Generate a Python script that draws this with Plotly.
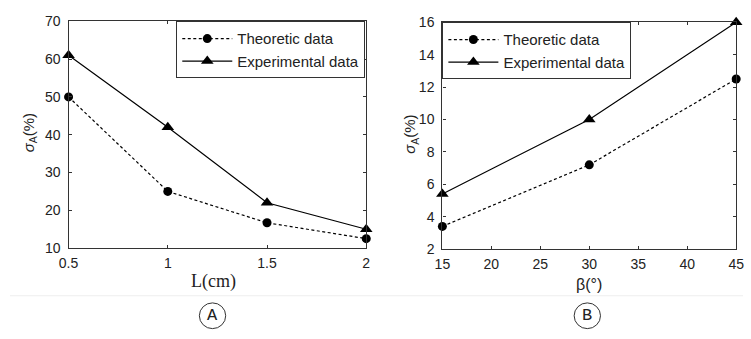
import plotly.graph_objects as go

# Panel A data
L_cm = [0.5, 1.0, 1.5, 2.0]
theo_A = [50.0, 25.0, 16.7, 12.5]
exp_A = [61.0, 42.0, 22.0, 15.0]

# Panel B data
beta_deg = [15, 30, 45]
theo_B = [3.4, 7.2, 12.5]
exp_B = [5.4, 10.0, 16.0]

xticks_A = [0.5, 1, 1.5, 2]
xtick_text_A = ["0.5", "1", "1.5", "2"]
yticks_A = [10, 20, 30, 40, 50, 60, 70]
xticks_B = [15, 20, 25, 30, 35, 40, 45]
yticks_B = [2, 4, 6, 8, 10, 12, 14, 16]

W, H = 751, 339
def px(x): return x / W
def py(y): return 1 - y / H

TXT = "#222222"
tickfont = dict(family="Liberation Sans, Arial", size=14, color=TXT)
legfont = dict(family="Liberation Sans, Arial", size=15, color=TXT)

dash_style = "3px,2.5px"
def series(x, y, name, dashed, xa, ya, leg):
    return go.Scatter(
        x=x, y=y, name=name, mode="lines+markers", cliponaxis=False,
        line=dict(color="black", width=1.2, dash=dash_style if dashed else "solid"),
        marker=dict(symbol="circle" if dashed else "triangle-up",
                    size=9 if dashed else 11, color="black"),
        xaxis=xa, yaxis=ya, legend=leg)

fig = go.Figure()
fig.add_trace(series(L_cm, theo_A, "Theoretic data", True, "x", "y", "legend"))
fig.add_trace(series(L_cm, exp_A, "Experimental data", False, "x", "y", "legend"))
fig.add_trace(series(beta_deg, theo_B, "Theoretic data", True, "x2", "y2", "legend2"))
fig.add_trace(series(beta_deg, exp_B, "Experimental data", False, "x2", "y2", "legend2"))

axis_common = dict(showline=True, linecolor="#333333", linewidth=1.3, mirror="ticks",
                   ticks="inside", ticklen=3, tickcolor="#333333", showgrid=False,
                   zeroline=False, tickfont=tickfont)

fig.update_layout(
    width=W, height=H,
    margin=dict(l=0, r=0, t=0, b=0),
    paper_bgcolor="white", plot_bgcolor="white",
    xaxis=dict(domain=[px(60), px(365)], range=[0.5, 2], tickvals=xticks_A,
               ticktext=xtick_text_A, anchor="y", ticklabelstandoff=2, **axis_common),
    yaxis=dict(domain=[py(252), py(14)], range=[10, 70], tickvals=yticks_A,
               anchor="x", ticklabelstandoff=4, **axis_common),
    xaxis2=dict(domain=[px(443), px(744)], range=[15, 45], tickvals=xticks_B,
                anchor="y2", ticklabelstandoff=2, **axis_common),
    yaxis2=dict(domain=[py(253), py(15)], range=[2, 16], tickvals=yticks_B,
                anchor="x2", ticklabelstandoff=4, **axis_common),
    legend=dict(x=px(364), xanchor="right", y=py(14), yanchor="top",
                bgcolor="white", bordercolor="#333333", borderwidth=1, font=legfont,
                tracegroupgap=0, itemwidth=50),
    legend2=dict(x=px(443), xanchor="left", y=py(15), yanchor="top",
                 bgcolor="white", bordercolor="#333333", borderwidth=1, font=legfont,
                 tracegroupgap=0, itemwidth=50),
    showlegend=True,
)

def ann(text, x, y, font, angle=0):
    return dict(text=text, x=px(x), y=py(y), xref="paper", yref="paper",
                xanchor="center", yanchor="middle", showarrow=False,
                textangle=angle, font=font)

annotations = [
    ann("L(cm)", 209, 287, dict(family="Liberation Serif, Times New Roman", size=18, color=TXT)),
    ann("β(°)", 593, 290, dict(family="Liberation Sans, Arial", size=16, color=TXT)),
    ann("<i>σ</i><sub>A</sub>(%)", 20, 131, dict(family="Liberation Sans, Arial", size=15, color=TXT), -90),
    ann("<i>σ</i><sub>A</sub>(%)", 411, 133, dict(family="Liberation Sans, Arial", size=15, color=TXT), -90),
    ann("A", 207.5, 323, dict(family="Liberation Mono, Courier New", size=17, color=TXT)),
    ann("B", 591.5, 323, dict(family="Liberation Mono, Courier New", size=17, color=TXT)),
]
fig.update_layout(annotations=annotations)

shapes = [
    dict(type="line", xref="paper", yref="paper", x0=0, x1=1, y0=py(302), y1=py(302),
         line=dict(color="#eeeeee", width=1)),
    dict(type="circle", xref="paper", yref="paper", x0=px(194), x1=px(221), y0=py(336.5), y1=py(309.5),
         line=dict(color="#333333", width=1)),
    dict(type="circle", xref="paper", yref="paper", x0=px(578), x1=px(605), y0=py(336.5), y1=py(309.5),
         line=dict(color="#333333", width=1)),
]
fig.update_layout(shapes=shapes)

fig.write_html("out.html")
